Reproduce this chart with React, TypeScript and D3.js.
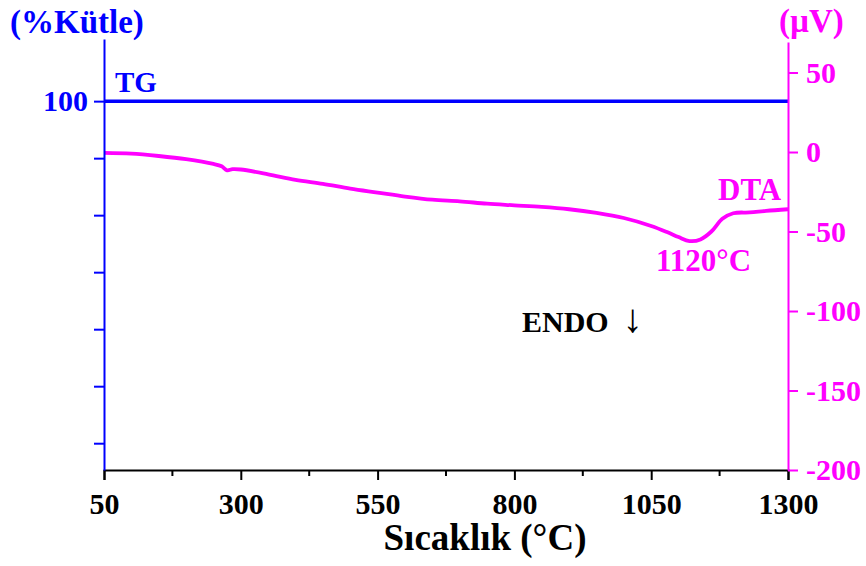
import { useRef, useEffect } from "react";
import * as d3 from "d3";

// DTA trace: temperature (°C) vs signal (µV)
const dtaTemp = [50, 100, 150, 200, 250, 265, 275, 285, 300, 350, 400, 450, 500, 550, 600, 650, 700, 750, 800, 850, 900, 950, 1000, 1050, 1080, 1100, 1120, 1140, 1160, 1180, 1200, 1230, 1260, 1300];
const dtaValue = [-0.5, -1, -2.5, -4.5, -7.5, -9, -11.5, -10.8, -11, -14, -17.5, -20, -23, -25.5, -28, -30, -31, -32.5, -33.5, -34.5, -36, -38.3, -41.5, -46.5, -50.5, -53.5, -56, -55, -50, -42, -38.5, -38, -37, -36];

// TG stays flat at 100 %
const tgTemp = [50, 1300];
const tgValue = [100, 100];

const xTicks = [50, 300, 550, 800, 1050, 1300];
const xMinorTicks = [175, 425, 675, 925, 1175];
const leftTicks = [100, 90, 80, 70, 60, 50, 40];
const rightTicks = [50, 0, -50, -100, -150, -200];

const BLUE = "#0000ff";
const MAGENTA = "#ff00ff";
const FONT = "'Liberation Serif', 'Times New Roman', serif";

export default function App() {
  const chartRef = useRef<HTMLDivElement>(null);

  useEffect(() => {
    if (!chartRef.current) return;
    document.body.style.margin = "0";
    d3.select(chartRef.current).selectAll("*").remove();

    const width = 866;
    const height = 566;
    const margin = { top: 39, right: 78, bottom: 96, left: 104 };
    const plotBottom = height - margin.bottom;

    const svg = d3
      .select(chartRef.current)
      .append("svg")
      .attr("width", width)
      .attr("height", height)
      .style("font-family", FONT)
      .style("font-weight", "bold");

    const x = d3.scaleLinear().domain([50, 1300]).range([margin.left, width - margin.right]);
    const yLeft = d3.scaleLinear().domain([35.3, 110.9]).range([plotBottom, margin.top]);
    const yRight = d3.scaleLinear().domain([-200, 69.2]).range([plotBottom, 42]);

    // TG line
    const tgLine = d3
      .line<number>()
      .x((_, i) => x(tgTemp[i]))
      .y((d) => yLeft(d));
    svg
      .append("path")
      .datum(tgValue)
      .attr("d", tgLine)
      .attr("fill", "none")
      .attr("stroke", BLUE)
      .attr("stroke-width", 3.5);

    // DTA curve
    const dtaLine = d3
      .line<number>()
      .x((_, i) => x(dtaTemp[i]))
      .y((d) => yRight(d))
      .curve(d3.curveCatmullRom);
    svg
      .append("path")
      .datum(dtaValue)
      .attr("d", dtaLine)
      .attr("fill", "none")
      .attr("stroke", MAGENTA)
      .attr("stroke-width", 3.8)
      .attr("stroke-linejoin", "round");

    const styleTicks = (g: d3.Selection<SVGGElement, unknown, null, undefined>, color: string) => {
      g.select(".domain").attr("stroke", color).attr("stroke-width", 2);
      g.selectAll(".tick line").attr("stroke", color).attr("stroke-width", 2);
      g.selectAll(".tick text")
        .attr("fill", color)
        .style("font-size", "30px")
        .style("font-family", FONT)
        .style("font-weight", "bold");
    };

    // Bottom axis
    const xAxis = svg
      .append("g")
      .attr("transform", `translate(0,${plotBottom})`)
      .call(d3.axisBottom(x).tickValues(xTicks).tickSize(10).tickPadding(13).tickFormat((d) => String(d)));
    styleTicks(xAxis, "#000");

    const xMinor = svg.append("g").attr("transform", `translate(0,${plotBottom})`);
    xMinor
      .selectAll("line")
      .data(xMinorTicks)
      .enter()
      .append("line")
      .attr("x1", (d) => x(d))
      .attr("x2", (d) => x(d))
      .attr("y1", 0)
      .attr("y2", 6)
      .attr("stroke", "#000")
      .attr("stroke-width", 2);

    // Left axis (TG)
    const leftAxis = svg
      .append("g")
      .attr("transform", `translate(${margin.left},0)`)
      .call(
        d3
          .axisLeft(yLeft)
          .tickValues(leftTicks)
          .tickSize(10)
          .tickPadding(6)
          .tickSizeOuter(0)
          .tickFormat((d) => ((d as number) === 100 ? "100" : ""))
      );
    styleTicks(leftAxis, BLUE);

    // Right axis (DTA)
    const rightAxis = svg
      .append("g")
      .attr("transform", `translate(${width - margin.right},0)`)
      .call(
        d3
          .axisRight(yRight)
          .tickValues(rightTicks)
          .tickSize(10)
          .tickPadding(8)
          .tickSizeOuter(0)
          .tickFormat((d) => String(d))
      );
    styleTicks(rightAxis, MAGENTA);

    // Axis titles
    svg
      .append("text")
      .attr("x", 10)
      .attr("y", 33)
      .attr("fill", BLUE)
      .attr("font-size", "33px")
      .text("(%Kütle)");

    svg
      .append("text")
      .attr("x", 779)
      .attr("y", 32)
      .attr("fill", MAGENTA)
      .attr("font-size", "33px")
      .text("(µV)");

    svg
      .append("text")
      .attr("x", 485)
      .attr("y", 550)
      .attr("text-anchor", "middle")
      .attr("fill", "#000")
      .attr("font-size", "37px")
      .text("Sıcaklık (°C)");

    // Curve labels
    svg
      .append("text")
      .attr("x", 115)
      .attr("y", 92)
      .attr("fill", BLUE)
      .attr("font-size", "29px")
      .text("TG");

    svg
      .append("text")
      .attr("x", 718)
      .attr("y", 200)
      .attr("fill", MAGENTA)
      .attr("font-size", "31px")
      .text("DTA");

    svg
      .append("text")
      .attr("x", 656)
      .attr("y", 271)
      .attr("fill", MAGENTA)
      .attr("font-size", "31px")
      .text("1120°C");

    const endo = svg
      .append("text")
      .attr("x", 522)
      .attr("y", 332)
      .attr("fill", "#000")
      .attr("font-size", "30px");
    endo.append("tspan").text("ENDO");
    endo.append("tspan").attr("dx", 14).attr("font-size", "40px").text("↓");
  }, []);

  return (
    <div>
      <div ref={chartRef}></div>
    </div>
  );
}
